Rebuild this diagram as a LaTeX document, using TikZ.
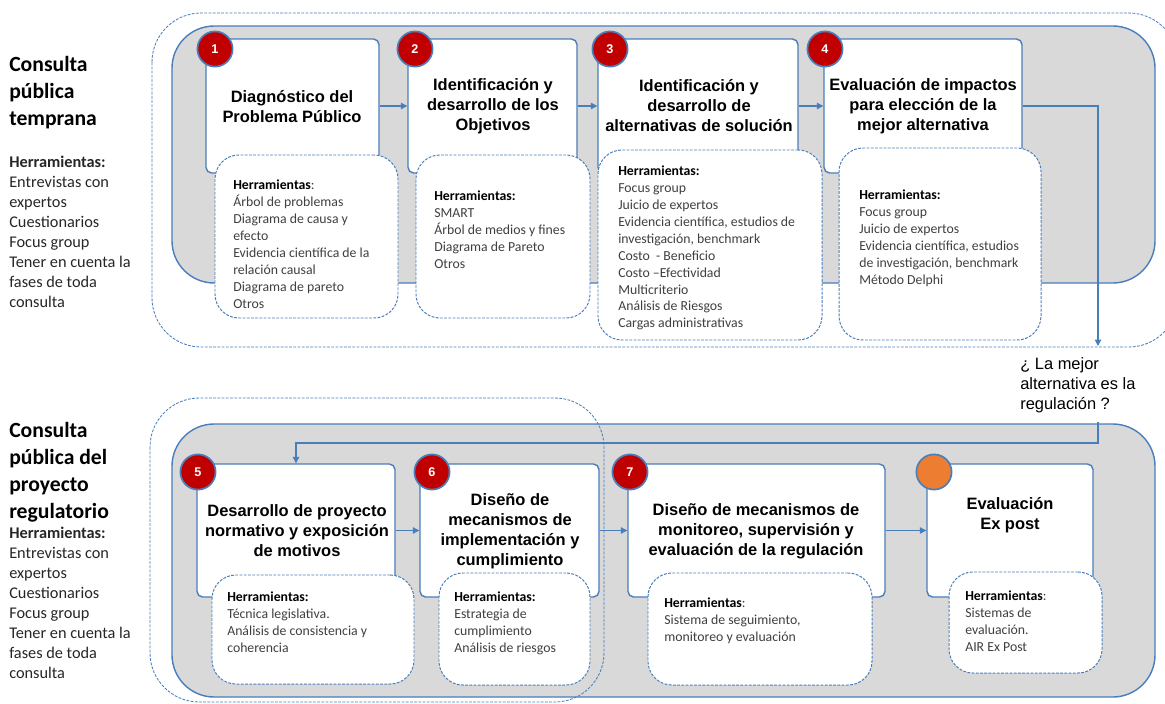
\documentclass[tikz,border=0pt]{standalone}
\usepackage{fontspec}
\setmainfont{Liberation Sans}
\newfontfamily\calibri{Carlito}
\usepackage{tikz}
\usetikzlibrary{arrows.meta,positioning,fit}
\definecolor{lineBlue}{HTML}{4A7EBB}
\definecolor{laneGray}{HTML}{D9D9D9}
\definecolor{badgeRed}{HTML}{C00000}
\definecolor{badgeOrange}{HTML}{ED7D31}
\definecolor{toolInk}{HTML}{404040}
\newcommand{\hdr}[1]{\textcolor{black}{\textbf{#1}}}

\begin{document}
\begin{tikzpicture}[x=0.025cm,y=-0.025cm,>={Triangle[length=4.5pt,width=4.5pt]},
  lane/.style={draw=lineBlue,line width=1pt,fill=laneGray,rounded corners=30pt},
  scopebox/.style={draw=lineBlue,line width=0.6pt,dash pattern=on 2pt off 1pt},
  stage/.style={draw=lineBlue,line width=1pt,fill=white,rounded corners=4pt,inner sep=0pt},
  tools/.style={draw=lineBlue,line width=0.7pt,dash pattern=on 2pt off 1pt,fill=white,rounded corners=17pt,inner sep=0pt},
  badge/.style={circle,draw=lineBlue,line width=1.2pt,fill=badgeRed,minimum size=0.88cm,inner sep=0pt,text=white,font=\fontsize{9}{10}\selectfont\bfseries},
  title/.style={font=\fontsize{11.7}{14.2}\selectfont\bfseries,align=center},
  toollist/.style={font=\calibri\fontsize{9.8}{12}\selectfont,text=toolInk,align=left,anchor=north west,inner sep=0pt},
  heading/.style={font=\calibri\fontsize{15.4}{19.1}\selectfont\bfseries,align=left,anchor=north west,inner sep=0pt},
  sidelist/.style={font=\calibri\fontsize{11.6}{14.2}\selectfont,text=black!85,align=left,anchor=north west,inner sep=0pt},
  flow/.style={->,draw=lineBlue,line width=0.8pt}]
\useasboundingbox (0,0) rectangle (1165,704);
% side labels
\node[heading] (earlyhead) at (9,56) {Consulta\\pública\\temprana};
\node[sidelist] (earlytools) at (9,156) {\textbf{Herramientas:}\\Entrevistas con\\expertos\\Cuestionarios\\Focus group\\Tener en cuenta la\\fases de toda\\consulta};
\node[heading] (drafthead) at (9,422) {Consulta\\pública del\\proyecto\\regulatorio};
\node[sidelist] (drafttools) at (9,527) {\textbf{Herramientas:}\\Entrevistas con\\expertos\\Cuestionarios\\Focus group\\Tener en cuenta la\\fases de toda\\consulta};
% lanes
\draw[scopebox,rounded corners=35pt] (152,13) rectangle (1178,347);
\draw[lane] (172,26) rectangle (1155,283);
\draw[lane] (172,424) rectangle (1155,697);
\draw[scopebox,rounded corners=35pt] (150,398) rectangle (604,702);
% stages, top row
\node[stage,fit={(206,39) (379,173)}] (s1) {};
\node[stage,fit={(408,39) (577,173)}] (s2) {};
\node[stage,fit={(598,39) (798,173)}] (s3) {};
\node[stage,fit={(824,39) (1022,173)}] (s4) {};
% stages, bottom row
\node[stage,fit={(197,464) (395,597)}] (s5) {};
\node[stage,fit={(420,464) (599,597)}] (s6) {};
\node[stage,fit={(628,464) (885,597)}] (s7) {};
\node[stage,fit={(927,464) (1093,597)}] (s8) {};
% connectors
\draw[flow] (s1) -- (s2);
\draw[flow] (s2) -- (s3);
\draw[flow] (s3) -- (s4);
\draw[flow] (s5) -- (s6);
\draw[flow] (s6) -- (s7);
\draw[flow] (s7) -- (s8);
\coordinate (q1) at (1098,346);
\coordinate (q2) at (1098,422);
\draw[flow] (s4.east) -| (q1);
\node[font=\fontsize{11.7}{14.2}\selectfont,align=left,anchor=north west,inner sep=0pt] (quest) at (1020,357) {¿ La mejor\\alternativa es la\\regulación ?};
\draw[flow] (q2) -- ++(0,21) -| (s5.north);
% badges
\node[badge] (n1) at (215,49) {1};
\node[badge] (n2) at (415,49) {2};
\node[badge] (n3) at (610,49) {3};
\node[badge] (n4) at (825,49) {4};
\node[badge] (n5) at (198,472) {5};
\node[badge] (n6) at (432,472) {6};
\node[badge] (n7) at (630,472) {7};
\node[badge,fill=badgeOrange] (n8) at (934,472) {};
% tool boxes
\node[tools,fit={(215,155) (398,318)}] (t1) {};
\node[tools,fit={(416,155) (590,318)}] (t2) {};
\node[tools,fit={(598,150) (822,340)}] (t3) {};
\node[tools,fit={(839,148) (1041,340)}] (t4) {};
\node[tools,fit={(212,575) (414,684)}] (t5) {};
\node[tools,fit={(439,573) (590,685)}] (t6) {};
\node[tools,fit={(648,573) (872,685)}] (t7) {};
\node[tools,fit={(949,572) (1102,673)}] (t8) {};
\node[toollist] (l1) at (233,180) {\hdr{Herramientas}:\\Árbol de problemas\\Diagrama de causa y\\efecto\\Evidencia científica de la\\relación causal\\Diagrama de pareto\\Otros};
\node[toollist] (l2) at (434,191) {\hdr{Herramientas:}\\SMART\\Árbol de medios y fines\\Diagrama de Pareto\\Otros};
\node[toollist] (l3) at (618,166) {\hdr{Herramientas:}\\Focus group\\Juicio de expertos\\Evidencia científica, estudios de\\investigación, benchmark\\Costo \ - Beneficio\\Costo –Efectividad\\Multicriterio\\Análisis de Riesgos\\Cargas administrativas};
\node[toollist] (l4) at (859,190) {\hdr{Herramientas:}\\Focus group\\Juicio de expertos\\Evidencia científica, estudios\\de investigación, benchmark\\Método Delphi};
\node[toollist] (l5) at (227,592) {\hdr{Herramientas:}\\Técnica legislativa.\\Análisis de consistencia y\\coherencia};
\node[toollist] (l6) at (454,592) {\hdr{Herramientas:}\\Estrategia de\\cumplimiento\\Análisis de riesgos};
\node[toollist] (l7) at (664,598) {\hdr{Herramientas}:\\Sistema de seguimiento,\\monitoreo y evaluación};
\node[toollist] (l8) at (965,591) {\hdr{Herramientas}:\\Sistemas de\\evaluación.\\AIR Ex Post};
% stage titles
\node[title] (h1) at (292,107) {Diagnóstico del\\Problema Público};
\node[title] (h2) at (493,106) {Identificación y\\desarrollo de los\\Objetivos};
\node[title] (h3) at (699,106) {Identificación y\\desarrollo de\\alternativas de solución};
\node[title] (h4) at (923,106) {Evaluación de impactos\\para elección de la\\mejor alternativa};
\node[title] (h5) at (297,531) {Desarrollo de proyecto\\normativo y exposición\\de motivos};
\node[title] (h6) at (510,531) {Diseño de\\mecanismos de\\implementación y\\cumplimiento};
\node[title] (h7) at (756,531) {Diseño de mecanismos de\\monitoreo, supervisión y\\evaluación de la regulación};
\node[title] (h8) at (1010,515) {Evaluación\\Ex post};
\end{tikzpicture}
\end{document}
